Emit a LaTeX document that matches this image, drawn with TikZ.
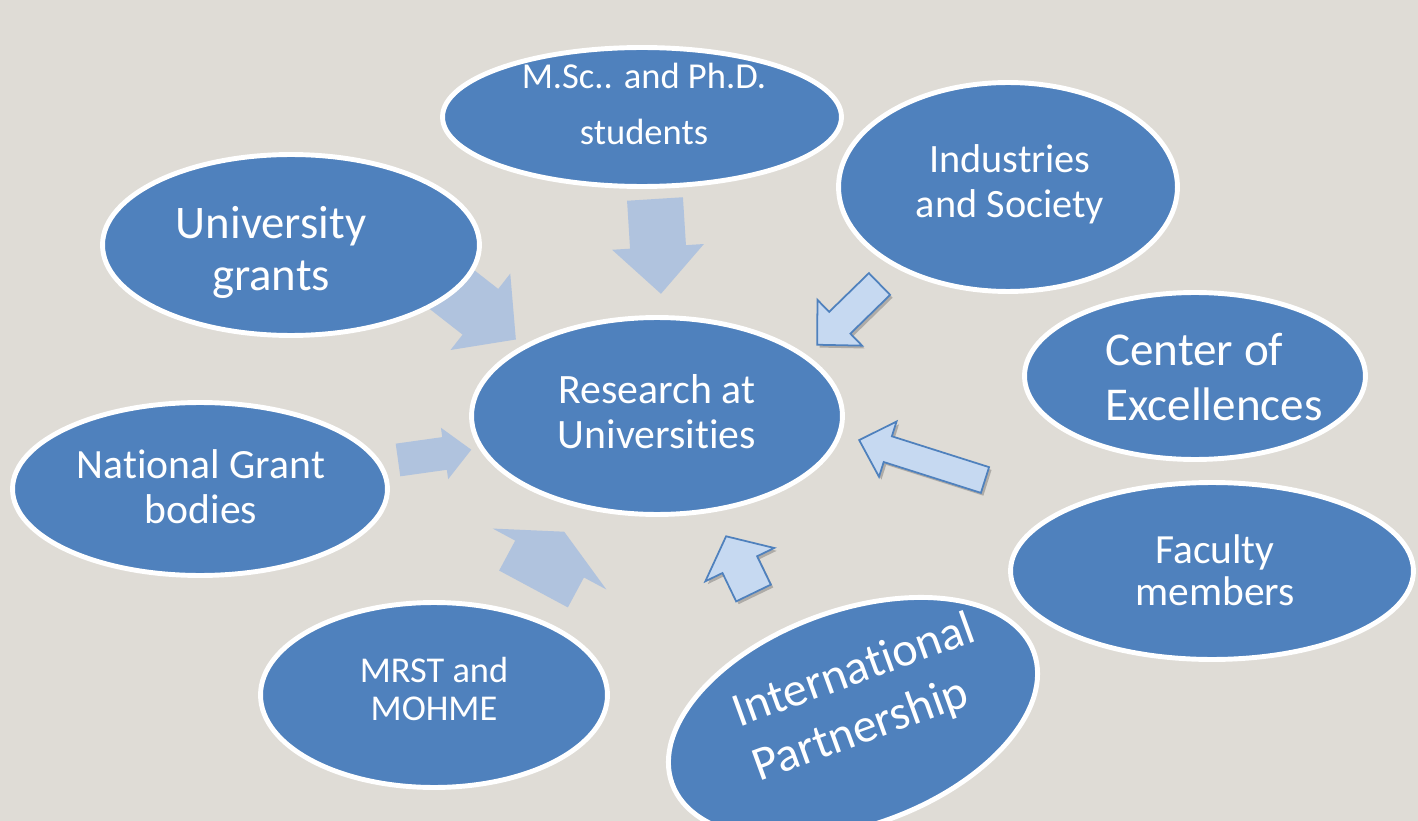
\documentclass[tikz,border=0pt]{standalone}
\usepackage{fontspec}
\setmainfont{Carlito}[Ligatures={NoCommon,NoRequired,NoContextual}]
\usetikzlibrary{shapes.geometric}
\definecolor{paper}{HTML}{DFDCD6}
\definecolor{bubbleblue}{HTML}{4F81BD}
\definecolor{softblue}{HTML}{B0C3DE}
\definecolor{paleblue}{HTML}{C6D9F1}
\tikzset{
    bubble/.style={ellipse,fill=bubbleblue,draw=white,line width=2.8pt,inner sep=0pt},
    words/.style={text=white,align=center,inner sep=0pt},
    softarrow/.style={fill=softblue},
    ringarrow/.style={fill=paleblue,draw=bubbleblue,line width=1pt,
        preaction={fill=black,opacity=0.22,transform canvas={shift={(1.4pt,-1.6pt)}}}},
}
% style, tail centre, angle, length, shaft width, head width, head length
\newcommand{\blockarrow}[7]{%
    \path[#1,shift={#2},rotate=#3] (0,-#5/2) -- (#4-#7,-#5/2) -- (#4-#7,-#6/2)
        -- (#4,0) -- (#4-#7,#6/2) -- (#4-#7,#5/2) -- (0,#5/2) -- cycle;}

\begin{document}
\begin{tikzpicture}[x=0.02cm,y=-0.02cm]
    \path[use as bounding box] (0,0) rectangle (1418,821);
    \fill[paper] (0,0) rectangle (1418,821);

    % arrows into the centre
    \blockarrow{softarrow}{(655,199)}{-86.4}{95}{56}{92}{47}
    \blockarrow{softarrow}{(441,281)}{-38}{95}{58}{97}{45}
    \blockarrow{softarrow}{(398,460)}{8}{74}{33}{52}{27}
    \blockarrow{softarrow}{(533.5,589)}{61.8}{65}{78}{129}{31}
    \blockarrow{ringarrow}{(753.5,593)}{115.8}{63}{38.5}{76.5}{31.5}
    \blockarrow{ringarrow}{(985,480)}{162.4}{132}{27}{58}{30}
    \blockarrow{ringarrow}{(879.5,284)}{-135.7}{87}{30.4}{64}{31.5}

    % bubbles
    \node[bubble,minimum width=7.98cm,minimum height=2.78cm] (msc) at (642,117) {};
    \node[bubble,minimum width=6.78cm,minimum height=4.18cm] (industry) at (1008,187) {};
    \node[bubble,minimum width=7.54cm,minimum height=3.62cm] (ugrants) at (291,245) {};
    \node[bubble,minimum width=6.82cm,minimum height=3.34cm] (excellence) at (1195,376) {};
    \node[bubble,minimum width=7.42cm,minimum height=3.94cm] (research) at (657,416) {};
    \node[bubble,minimum width=7.5cm,minimum height=3.46cm] (national) at (200,489) {};
    \node[bubble,minimum width=8.06cm,minimum height=3.54cm] (faculty) at (1212,571) {};
    \node[bubble,minimum width=6.94cm,minimum height=3.7cm] (mrst) at (434,695) {};
    \node[bubble,rotate=20,minimum width=7.7cm,minimum height=4.3cm] (intl) at (853,718) {};

    % labels
    \node[words,font=\fontsize{20.8}{31.9}\selectfont] (msc-text) at (644,104) {M.Sc.. and Ph.D.\\students};
    \node[words,font=\fontsize{22.9}{25.6}\selectfont] (industry-text) at (1010,184) {Industries\\and Society};
    \node[words,font=\fontsize{26.6}{29.6}\selectfont] (ugrants-text) at (271,252) {University\\grants};
    \node[words,align=left,font=\fontsize{26.8}{31.3}\selectfont] (excellence-text) at (1214,377) {Center of\\Excellences};
    \node[words,font=\fontsize{23.8}{25.6}\selectfont] (research-text) at (657,412) {Research at\\Universities};
    \node[words,font=\fontsize{23.7}{25.6}\selectfont] (national-text) at (201,487) {National Grant\\bodies};
    \node[words,font=\fontsize{23.6}{23.9}\selectfont] (faculty-text) at (1215,570) {Faculty\\members};
    \node[words,font=\fontsize{20.7}{21.6}\selectfont] (mrst-text) at (434,689) {MRST and\\MOHME};
    \node[words,align=left,rotate=20,font=\fontsize{27.4}{33}\selectfont] (intl-text) at (864,699) {International\\Partnership};
\end{tikzpicture}
\end{document}
